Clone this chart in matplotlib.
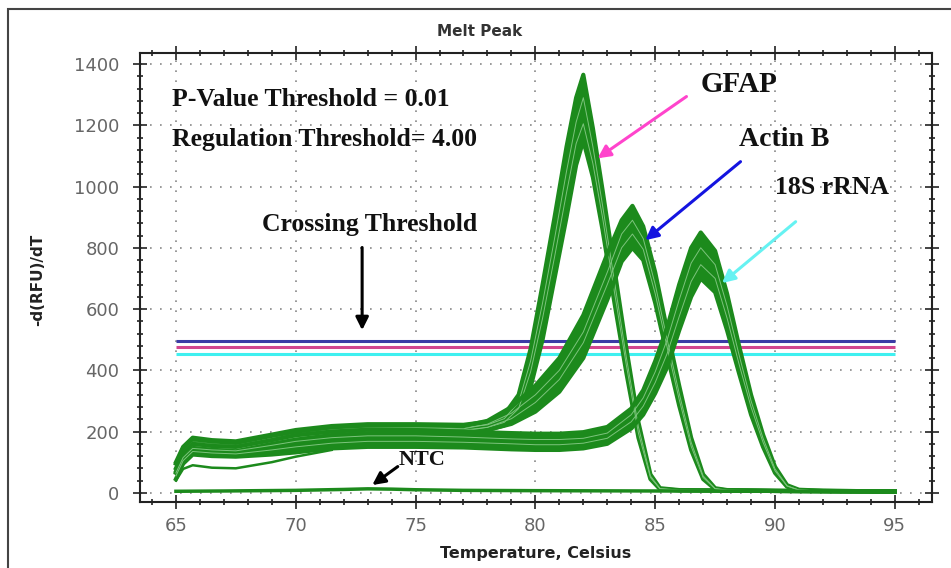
import matplotlib.pyplot as plt
from matplotlib.patches import Rectangle
from matplotlib.ticker import MultipleLocator

# melt curves (temperature in C, -d(RFU)/dT)
t_gfap = [65, 65.3, 65.7, 66.5, 67.5, 69, 70, 71.5, 73, 75, 77, 78, 78.7, 79.3, 79.8, 80.3,
          80.8, 81.3, 81.7, 82.0, 82.4, 82.8, 83.3, 83.8, 84.3, 84.8, 85.2, 86, 90, 95]
gfap_hi = [100, 150, 180, 172, 168, 190, 205, 218, 224, 224, 222, 232, 255, 320, 470, 680,
           900, 1130, 1290, 1365, 1190, 990, 730, 470, 230, 60, 15, 9, 7, 5]
gfap_m1 = [90, 140, 170, 163, 158, 180, 196, 210, 216, 216, 213, 222, 242, 295, 430, 620,
           830, 1050, 1210, 1290, 1130, 940, 690, 440, 215, 55, 14, 9, 6, 4]
gfap_m2 = [80, 130, 160, 154, 149, 172, 188, 202, 208, 208, 205, 213, 230, 275, 395, 570,
           770, 980, 1140, 1205, 1075, 900, 655, 415, 195, 50, 13, 8, 6, 4]
gfap_lo = [70, 120, 150, 145, 140, 165, 180, 195, 200, 200, 198, 205, 220, 255, 345, 500,
           700, 900, 1070, 1150, 1030, 860, 620, 390, 180, 45, 12, 8, 6, 4]

t_actin = [65, 65.3, 65.7, 66.5, 67.5, 69, 70, 71.5, 73, 75, 77, 78, 79, 80, 81, 82, 83,
           83.6, 84.05, 84.5, 85.0, 85.5, 86.0, 86.5, 87.0, 87.5, 88, 90, 95]
actin_hi = [95, 145, 175, 168, 163, 186, 200, 214, 220, 221, 218, 235, 280, 350, 440, 580, 780,
            890, 937, 870, 720, 530, 350, 180, 60, 15, 9, 6, 4]
actin_m1 = [85, 135, 165, 158, 153, 176, 190, 205, 211, 212, 209, 224, 260, 320, 400, 525, 720,
            845, 890, 830, 680, 500, 325, 165, 55, 14, 9, 6, 4]
actin_m2 = [75, 125, 155, 149, 144, 168, 182, 197, 203, 204, 202, 214, 242, 295, 370, 490, 680,
            800, 845, 795, 650, 475, 305, 152, 50, 13, 8, 6, 4]
actin_lo = [65, 115, 145, 140, 135, 160, 175, 190, 196, 197, 195, 205, 225, 265, 330, 440, 630,
            755, 800, 760, 620, 450, 285, 140, 45, 12, 8, 6, 4]

t_18s = [65, 65.3, 65.7, 66.5, 67.5, 69, 70, 71.5, 73, 75, 77, 79, 80, 81, 82, 83, 84, 84.5,
         85, 85.5, 86, 86.5, 86.9, 87.5, 88, 88.5, 89, 89.5, 90, 90.5, 91, 92, 95]
s18_hi = [80, 130, 160, 153, 150, 172, 188, 200, 206, 205, 200, 195, 193, 193, 198, 215, 275, 335,
          430, 540, 680, 800, 850, 790, 650, 480, 320, 190, 85, 25, 10, 7, 4]
s18_m1 = [65, 115, 145, 140, 137, 155, 168, 180, 186, 186, 182, 176, 174, 174, 178, 195, 255, 310,
          395, 500, 630, 750, 800, 745, 610, 450, 300, 178, 78, 23, 9, 6, 4]
s18_m2 = [55, 105, 135, 130, 127, 140, 150, 162, 168, 168, 165, 160, 157, 157, 162, 178, 232, 283,
          360, 455, 575, 690, 745, 700, 570, 420, 280, 165, 72, 22, 9, 6, 4]
s18_lo = [45, 95, 125, 120, 118, 125, 132, 145, 150, 150, 148, 142, 140, 140, 145, 160, 210, 255,
          325, 410, 530, 640, 700, 655, 530, 390, 255, 150, 65, 20, 8, 6, 4]

t_outlier = [65, 65.3, 65.7, 66.5, 67.5, 69, 70, 71.5]
outlier = [40, 78, 90, 82, 80, 100, 118, 140]

t_ntc = [65, 67, 70, 72, 73, 74, 75, 77, 80, 85, 90, 95]
ntc = [5, 6, 8, 11, 13, 12, 10, 8, 7, 6, 5, 3]

# crossing thresholds
thr_values = [495, 475, 452]
thr_colors = ['#3b3ba6', '#d2458f', '#3ff0f0']

green = '#1c8a1c'
light = '#7cc47c'

fig = plt.figure(figsize=(9.51, 5.68), dpi=100)
ax = fig.add_axes([0.1472, 0.1162, 0.8328, 0.7905])

# outer frame of the screenshot
fig.patches.append(Rectangle((8 / 951, -0.2), 1.2, 1.2 - 9 / 568, transform=fig.transFigure,
                             fill=False, edgecolor='#444444', linewidth=1.5))

for t, hi, mids, lo in [(t_gfap, gfap_hi, [gfap_m1, gfap_m2], gfap_lo),
                        (t_actin, actin_hi, [actin_m1, actin_m2], actin_lo),
                        (t_18s, s18_hi, [s18_m1, s18_m2], s18_lo)]:
    ax.fill_between(t, lo, hi, color=green, linewidth=0, zorder=3)
    ax.plot(t, hi, color=green, lw=3, zorder=4)
    ax.plot(t, lo, color=green, lw=3, zorder=4)
    for m in mids:
        ax.plot(t, m, color=light, lw=0.7, zorder=4)

ax.plot(t_outlier, outlier, color=green, lw=1.8, zorder=4)
ax.plot(t_ntc, ntc, color=green, lw=2.5, zorder=4)

ax.hlines(thr_values, 65, 95, colors=thr_colors, lw=2.2, zorder=2)

ax.set_xlim(63.5, 96.55)
ax.set_ylim(-30, 1436)
ax.xaxis.set_major_locator(MultipleLocator(5))
ax.xaxis.set_minor_locator(MultipleLocator(1))
ax.yaxis.set_major_locator(MultipleLocator(200))
ax.yaxis.set_minor_locator(MultipleLocator(40))
ax.tick_params(which='both', direction='inout', top=True, right=True, color='#222222', width=1.2)
ax.tick_params(which='major', length=10)
ax.tick_params(which='minor', length=5)
ax.tick_params(axis='y', labelsize=13, labelcolor='#666666', pad=10)
ax.tick_params(axis='x', labelsize=13, labelcolor='#666666', pad=6)
ax.grid(True, which='major', color='#888888', linestyle=(0, (1, 5)), linewidth=1.2)
for s in ax.spines.values():
    s.set_linewidth(1.5)
    s.set_color('#222222')

ax.set_xlabel('Temperature, Celsius', fontsize=11.5, fontweight='bold', color='#222222', labelpad=8)
fig.text(38 / 951, 1 - 280 / 568, '-d(RFU)/dT', rotation=90, fontsize=11, fontweight='bold',
         color='#222222', ha='center', va='center')
fig.text(480 / 951, 1 - 31 / 568, 'Melt Peak', fontsize=11, fontweight='bold', color='#333333',
         ha='center', va='center')

serif = dict(family='Liberation Serif', fontweight='bold', color='#111111', va='center', ha='left')
ax.text(64.85, 1283, 'P-Value Threshold = 0.01', fontsize=18.5, **serif)
ax.text(64.85, 1152, 'Regulation Threshold= 4.00', fontsize=18.5, **serif)
ax.text(68.6, 875, 'Crossing Threshold', fontsize=18.5, **serif)
ax.text(86.9, 1332, 'GFAP', fontsize=21, **serif)
ax.text(88.5, 1152, 'Actin B', fontsize=20, **serif)
ax.text(90.0, 996, '18S rRNA', fontsize=18.5, **serif)
ax.text(74.3, 108, 'NTC', fontsize=16, **serif)

arrows = [((72.77, 810), (72.77, 522), 'black'),
          ((86.4, 1299), (82.5, 1087), '#ff44cc'),
          ((88.65, 1087), (84.5, 819), '#1414e0'),
          ((90.95, 891), (87.7, 679), '#66f2f2'),
          ((74.35, 91), (73.1, 20), 'black')]
for start, end, col in arrows:
    ax.annotate('', xy=end, xytext=start, zorder=6,
                arrowprops=dict(arrowstyle='-|>', color=col, lw=2.2, mutation_scale=19))

plt.savefig('out.png', dpi=100)
